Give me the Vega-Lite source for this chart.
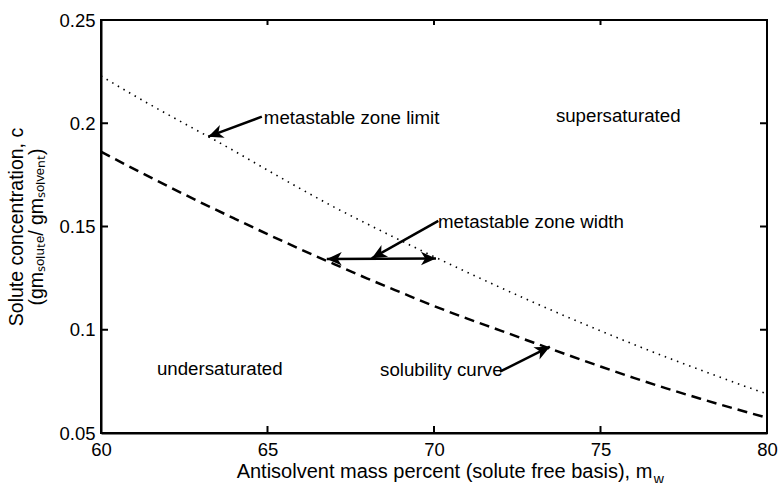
{
  "$schema": "https://vega.github.io/schema/vega-lite/v6.json",
  "width": 666,
  "height": 413,
  "autosize": {"type": "none"},
  "padding": {"left": 101, "top": 20, "right": 11, "bottom": 50},
  "background": "white",
  "config": {
    "font": "Liberation Sans",
    "view": {"stroke": "black", "strokeWidth": 2},
    "axis": {
      "ticks": false,
      "grid": false,
      "domainColor": "black",
      "domainWidth": 2,
      "labelColor": "black",
      "labelFontSize": 18.5,
      "labelFont": "Liberation Sans",
      "titleColor": "black",
      "titleFont": "Liberation Sans",
      "titleFontSize": 19.5,
      "titleFontWeight": "normal",
      "labelFlush": false,
      "labelOverlap": false
    },
    "text": {"font": "Liberation Sans", "fontSize": 18.7, "color": "black"}
  },
  "datasets": {
    "curves": [
      {"mw": 60, "c": 0.1862, "curve": "solubility"},
      {"mw": 61, "c": 0.1778, "curve": "solubility"},
      {"mw": 62, "c": 0.1696, "curve": "solubility"},
      {"mw": 63, "c": 0.1616, "curve": "solubility"},
      {"mw": 64, "c": 0.1539, "curve": "solubility"},
      {"mw": 65, "c": 0.1463, "curve": "solubility"},
      {"mw": 66, "c": 0.1389, "curve": "solubility"},
      {"mw": 67, "c": 0.1318, "curve": "solubility"},
      {"mw": 68, "c": 0.1248, "curve": "solubility"},
      {"mw": 69, "c": 0.1181, "curve": "solubility"},
      {"mw": 70, "c": 0.1115, "curve": "solubility"},
      {"mw": 71, "c": 0.1054, "curve": "solubility"},
      {"mw": 72, "c": 0.0996, "curve": "solubility"},
      {"mw": 73, "c": 0.0937, "curve": "solubility"},
      {"mw": 74, "c": 0.0879, "curve": "solubility"},
      {"mw": 75, "c": 0.0822, "curve": "solubility"},
      {"mw": 76, "c": 0.0767, "curve": "solubility"},
      {"mw": 77, "c": 0.0715, "curve": "solubility"},
      {"mw": 78, "c": 0.0666, "curve": "solubility"},
      {"mw": 79, "c": 0.0619, "curve": "solubility"},
      {"mw": 80, "c": 0.0574, "curve": "solubility"},
      {"mw": 60, "c": 0.2229, "curve": "metastable"},
      {"mw": 61, "c": 0.2134, "curve": "metastable"},
      {"mw": 62, "c": 0.2043, "curve": "metastable"},
      {"mw": 63, "c": 0.1955, "curve": "metastable"},
      {"mw": 64, "c": 0.1866, "curve": "metastable"},
      {"mw": 65, "c": 0.1773, "curve": "metastable"},
      {"mw": 66, "c": 0.1682, "curve": "metastable"},
      {"mw": 67, "c": 0.1594, "curve": "metastable"},
      {"mw": 68, "c": 0.1512, "curve": "metastable"},
      {"mw": 69, "c": 0.1432, "curve": "metastable"},
      {"mw": 70, "c": 0.1354, "curve": "metastable"},
      {"mw": 71, "c": 0.1278, "curve": "metastable"},
      {"mw": 72, "c": 0.1204, "curve": "metastable"},
      {"mw": 73, "c": 0.1132, "curve": "metastable"},
      {"mw": 74, "c": 0.1062, "curve": "metastable"},
      {"mw": 75, "c": 0.0995, "curve": "metastable"},
      {"mw": 76, "c": 0.0929, "curve": "metastable"},
      {"mw": 77, "c": 0.0866, "curve": "metastable"},
      {"mw": 78, "c": 0.0805, "curve": "metastable"},
      {"mw": 79, "c": 0.0746, "curve": "metastable"},
      {"mw": 80, "c": 0.0689, "curve": "metastable"}
    ],
    "xticks": [{"mw": 65}, {"mw": 70}, {"mw": 75}],
    "yticks": [{"c": 0.1}, {"c": 0.15}, {"c": 0.2}],
    "arrows": [
      {"x0": 64.83, "c0": 0.2032, "x1": 63.22, "c1": 0.1935, "both": false},
      {"x0": 70.13, "c0": 0.1527, "x1": 68.13, "c1": 0.1346, "both": false},
      {"x0": 66.78, "c0": 0.1343, "x1": 70.06, "c1": 0.1345, "both": true},
      {"x0": 71.98, "c0": 0.0797, "x1": 73.48, "c1": 0.0918, "both": false}
    ],
    "notes": [
      {"mw": 64.89, "c": 0.2025, "note": "metastable zone limit"},
      {"mw": 70.12, "c": 0.1522, "note": "metastable zone width"},
      {"mw": 73.66, "c": 0.2035, "note": "supersaturated"},
      {"mw": 61.68, "c": 0.081, "note": "undersaturated"},
      {"mw": 68.38, "c": 0.0805, "note": "solubility curve"}
    ]
  },
  "layer": [
    {
      "data": {"name": "curves"},
      "transform": [{"filter": "datum.curve === 'solubility'"}],
      "mark": {"type": "line", "color": "black", "strokeWidth": 2.5, "strokeDash": [10, 6], "interpolate": "monotone"},
      "encoding": {
        "x": {
          "field": "mw", "type": "quantitative",
          "scale": {"domain": [60, 80], "nice": false, "zero": false},
          "axis": {
            "orient": "bottom",
            "values": [60, 65, 70, 75, 80],
            "labelPadding": 7,
            "title": "Antisolvent mass percent (solute free basis), m",
            "titleFontSize": 20,
            "titleX": 343,
            "titlePadding": 3
          }
        },
        "y": {
          "field": "c", "type": "quantitative",
          "scale": {"domain": [0.05, 0.25], "nice": false, "zero": false},
          "axis": {
            "orient": "left",
            "values": [0.05, 0.1, 0.15, 0.2, 0.25],
            "format": "~g",
            "labelPadding": 6,
            "title": ["Solute concentration, c", "(gmₛₒₗᵤₜₑ/ gmₛₒₗᵥₑₙₜ)"],
            "titlePadding": 12,
            "titleLineHeight": 20
          }
        }
      }
    },
    {
      "data": {"name": "curves"},
      "transform": [{"filter": "datum.curve === 'metastable'"}],
      "mark": {"type": "line", "color": "black", "strokeWidth": 1.6, "strokeDash": [1.5, 5], "interpolate": "monotone"},
      "encoding": {
        "x": {"field": "mw", "type": "quantitative"},
        "y": {"field": "c", "type": "quantitative"}
      }
    },
    {
      "data": {"name": "xticks"},
      "mark": {"type": "tick", "orient": "vertical", "color": "black", "opacity": 1, "thickness": 2, "size": 7, "yOffset": -3.5},
      "encoding": {
        "x": {"field": "mw", "type": "quantitative"},
        "y": {"datum": 0.05, "type": "quantitative"}
      }
    },
    {
      "data": {"name": "xticks"},
      "mark": {"type": "tick", "orient": "vertical", "color": "black", "opacity": 1, "thickness": 2, "size": 5, "yOffset": 2.5},
      "encoding": {
        "x": {"field": "mw", "type": "quantitative"},
        "y": {"datum": 0.25, "type": "quantitative"}
      }
    },
    {
      "data": {"name": "yticks"},
      "mark": {"type": "tick", "orient": "horizontal", "color": "black", "opacity": 1, "thickness": 2, "size": 7, "xOffset": 3.5},
      "encoding": {
        "x": {"datum": 60, "type": "quantitative"},
        "y": {"field": "c", "type": "quantitative"}
      }
    },
    {
      "data": {"name": "yticks"},
      "mark": {"type": "tick", "orient": "horizontal", "color": "black", "opacity": 1, "thickness": 2, "size": 7, "xOffset": -3.5},
      "encoding": {
        "x": {"datum": 80, "type": "quantitative"},
        "y": {"field": "c", "type": "quantitative"}
      }
    },
    {
      "data": {"name": "arrows"},
      "mark": {"type": "rule", "color": "black", "strokeWidth": 2.5},
      "encoding": {
        "x": {"field": "x0", "type": "quantitative"},
        "y": {"field": "c0", "type": "quantitative"},
        "x2": {"field": "x1"},
        "y2": {"field": "c1"}
      }
    },
    {
      "data": {"name": "arrows"},
      "transform": [
        {"calculate": "atan2((datum.x1 - datum.x0) * 666 / 20, (datum.c1 - datum.c0) * 413 / 0.2) * 180 / PI", "as": "heading"}
      ],
      "mark": {"type": "point", "shape": "M0,0 L0.45,1 L0,0.72 L-0.45,1 Z", "filled": true, "color": "black", "opacity": 1, "size": 900, "strokeWidth": 0},
      "encoding": {
        "x": {"field": "x1", "type": "quantitative"},
        "y": {"field": "c1", "type": "quantitative"},
        "angle": {"field": "heading", "type": "quantitative", "scale": null}
      }
    },
    {
      "data": {"name": "arrows"},
      "transform": [
        {"filter": "datum.both"},
        {"calculate": "atan2((datum.x0 - datum.x1) * 666 / 20, (datum.c0 - datum.c1) * 413 / 0.2) * 180 / PI", "as": "heading"}
      ],
      "mark": {"type": "point", "shape": "M0,0 L0.45,1 L0,0.72 L-0.45,1 Z", "filled": true, "color": "black", "opacity": 1, "size": 900, "strokeWidth": 0},
      "encoding": {
        "x": {"field": "x0", "type": "quantitative"},
        "y": {"field": "c0", "type": "quantitative"},
        "angle": {"field": "heading", "type": "quantitative", "scale": null}
      }
    },
    {
      "data": {"name": "notes"},
      "mark": {"type": "text", "align": "left", "baseline": "middle", "fontSize": 18.7},
      "encoding": {
        "x": {"field": "mw", "type": "quantitative"},
        "y": {"field": "c", "type": "quantitative"},
        "text": {"field": "note"}
      }
    },
    {
      "data": {"values": [{"mw": 76.6, "c": 0.027, "sub": "w"}]},
      "mark": {"type": "text", "align": "left", "baseline": "middle", "fontSize": 14},
      "encoding": {
        "x": {"field": "mw", "type": "quantitative"},
        "y": {"field": "c", "type": "quantitative"},
        "text": {"field": "sub"}
      }
    }
  ]
}
